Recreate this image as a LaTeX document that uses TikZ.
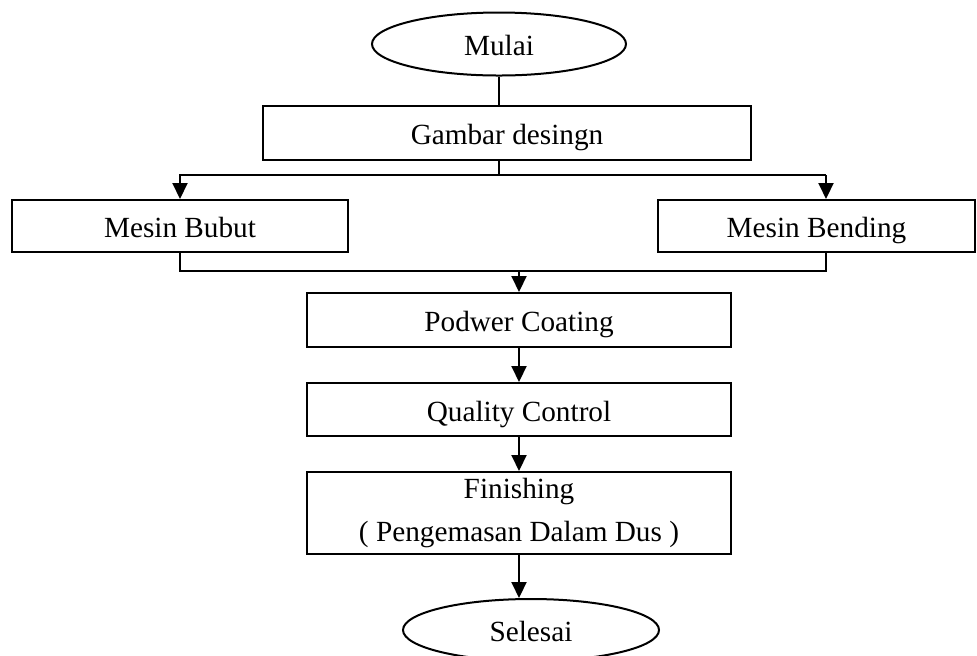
\documentclass[tikz,border=0pt]{standalone}
\usepackage{fontspec}
\setmainfont{Liberation Serif}
\usetikzlibrary{shapes.geometric,arrows.meta}

\begin{document}
\begin{tikzpicture}[x=0.4pt, y=-0.4pt, line width=0.8pt,
    >={Triangle[length=6.4pt,width=6pt]},
    font=\fontsize{11.7}{17.2}\selectfont,
    kotak/.style 2 args={draw, rectangle, minimum width=#1, minimum height=#2, inner sep=0pt, align=center},
    oval/.style 2 args={draw, ellipse, minimum width=#1, minimum height=#2, inner sep=0pt},
    baris/.style={text height=9.4pt, text depth=0pt}]
    \useasboundingbox (0,0) rectangle (977,655);

    \node[oval={101.6pt}{25.2pt}, baris] (mulai) at (499,44) {Mulai};
    \node[kotak={195.2pt}{21.6pt}, baris] (gambar) at (507,133) {Gambar desingn};
    \node[kotak={134pt}{20.8pt}, baris] (bubut) at (180,226) {Mesin Bubut};
    \node[kotak={126.8pt}{20.8pt}, baris] (bending) at (816.5,226) {Mesin Bending};
    \node[kotak={169.6pt}{21.6pt}, baris] (podwer) at (519,320) {Podwer Coating};
    \node[kotak={169.6pt}{21.2pt}, baris] (quality) at (519,409.5) {Quality Control};
    \node[kotak={169.6pt}{32.8pt}] (finishing) at (519,513) {Finishing\\( Pengemasan Dalam Dus )};
    \node[oval={102.4pt}{24.8pt}, baris] (selesai) at (531,630) {Selesai};

    \coordinate (bagiA) at (180,175);
    \coordinate (bagiB) at (826,175);
    \coordinate (gabungA) at (180,271);
    \coordinate (gabungB) at (826,271);

    \draw (mulai.south) -- (mulai.south |- gambar.north);
    \draw (mulai.south |- gambar.south) -- (mulai.south |- bagiA);
    \draw[->] (bagiB) -- (bagiA) -- (bagiA |- bubut.north);
    \draw[->] (bagiB) -- (bagiB |- bending.north);
    \draw (bagiA |- bubut.south) -- (gabungA) -- (gabungB) -- (bagiB |- bending.south);
    \draw[->] (podwer.north |- gabungA) -- (podwer.north);
    \draw[->] (podwer) -- (quality);
    \draw[->] (quality) -- (finishing);
    \draw[->] (finishing.south) -- (finishing.south |- selesai.north);
\end{tikzpicture}
\end{document}
